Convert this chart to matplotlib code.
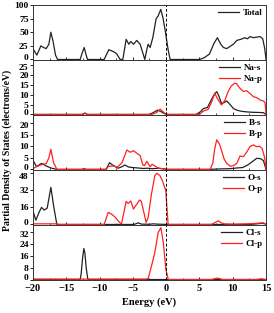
import numpy as np
import matplotlib
matplotlib.use('Agg')
import matplotlib.pyplot as plt
from matplotlib.ticker import MultipleLocator
from matplotlib.transforms import ScaledTranslation

plt.rcParams['font.family'] = ['Liberation Serif', 'DejaVu Serif']
plt.rcParams['font.weight'] = 'bold'

# Total DOS
total_e = [-20, -19.7, -19.4, -18.8, -18.4, -18.0, -17.6, -17.3, -17.0, -16.6, -16.3,
           -12.9, -12.6, -12.3, -12.0, -11.8, -9.3, -9.0, -8.6, -8.2, -7.7, -7.4, -7.1, -6.9,
           -6.5, -6.0, -5.6, -5.3, -4.9, -4.4, -3.9, -3.5, -3.2, -2.9, -2.7, -2.4, -2.0, -1.5,
           -1.2, -0.8, -0.45, -0.1, 0.3, 0.6, 5.0, 5.7, 6.5, 7.2, 7.7, 8.2, 8.6, 9.1, 9.6,
           10.1, 10.6, 11.2, 11.8, 12.2, 12.6, 13.1, 13.6, 14.1, 14.5, 14.8, 15.0]
total_v = [20, 14, 8, 25, 22, 20, 28, 50, 35, 8, 0,
           0, 12, 22, 8, 0, 0, 8, 18, 16, 13, 10, 4, 0,
           0, 37, 28, 33, 28, 35, 28, 12, 0, 18, 28, 22, 40, 75,
           80, 92, 75, 50, 18, 0, 0, 3, 10, 30, 40, 28, 22, 20, 24,
           28, 35, 37, 40, 38, 42, 40, 41, 42, 38, 20, 0]

# Na
nas_e = [-20, -12.6, -12.2, -11.8, -2.5, -1.8, -1.3, -0.8, -0.3, 0.2, 4.5, 5.2, 5.6, 6.2,
         6.8, 7.3, 7.6, 7.9, 8.3, 8.7, 9.1, 9.6, 10.1, 10.6, 11.3, 12.1, 13.0, 14.0, 14.6, 15.0]
nas_v = [0, 0, 0.6, 0, 0, 1.2, 2.2, 1.5, 0.5, 0, 0, 1.5, 3.0, 3.5,
         7.5, 10.5, 11.5, 9.5, 5.6, 6.0, 6.8, 5.0, 3.0, 2.2, 1.6, 1.3, 1.1, 1.0, 0.9, 0]
nap_e = [-20, -12.6, -12.2, -11.8, -2.2, -1.5, -0.9, -0.5, -0.1, 0.2, 5.0, 5.5, 5.8, 6.3,
         6.8, 7.3, 7.7, 8.3, 8.8, 9.3, 9.8, 10.3, 10.6, 11.0, 11.6, 12.1, 12.6, 13.1, 13.6,
         14.1, 14.6, 14.85, 15.0]
nap_v = [0, 0, 0.8, 0, 0, 0.8, 2.7, 1.5, 0.3, 0, 0, 1.5, 2.0, 2.5,
         6.0, 10.7, 8.0, 4.8, 7.0, 11.5, 14.5, 15.8, 15.5, 13.5, 11.6, 12.0, 10.5, 9.0, 8.5,
         7.3, 6.8, 6.0, 0]

# B
bs_e = [-20, -19.45, -18.7, -18.0, -17.3, -16.4, -12.6, -12.3, -12.0, -9.0, -8.5, -8.0,
        -7.2, -6.6, -6.2, -5.6, -5.0, -4.2, -3.5, -2.8, -2.0, -1.2, -0.3, 0.2, 6.5, 8.0,
        9.5, 10.6, 11.5, 12.3, 13.0, 13.6, 14.2, 14.6, 15.0]
bs_v = [4.0, 1.2, 2.6, 1.5, 0.6, 0, 0, 0.3, 0, 0, 2.9, 1.8,
        0.5, 1.2, 1.9, 1.0, 0.8, 0.6, 0.4, 0.5, 0.3, 0.5, 0.2, 0, 0, 0.2,
        0.3, 0.6, 0.8, 2.0, 3.5, 4.8, 4.6, 3.8, 0]
bp_e = [-20, -19.45, -18.9, -18.45, -18.0, -17.6, -17.3, -16.9, -16.4, -12.6, -12.3, -12.0,
        -9.0, -8.7, -8.0, -7.3, -6.6, -5.9, -5.4, -4.9, -4.4, -3.9, -3.5, -3.2, -2.9, -2.4,
        -2.1, -1.7, -1.2, -0.6, -0.2, 6.6, 7.0, 7.3, 7.6, 8.0, 8.3, 8.7, 9.1, 9.6, 10.1,
        10.6, 11.1, 11.6, 12.1, 12.6, 13.1, 13.6, 14.0, 14.4, 14.8, 15.0]
bp_v = [0.3, 1.2, 1.8, 2.3, 2.5, 5.0, 8.7, 3.0, 0, 0, 0.2, 0,
        0, 1.2, 1.5, 1.0, 3.0, 8.4, 7.4, 8.1, 7.0, 6.0, 1.9, 1.7, 3.5, 1.2,
        2.2, 1.5, 0.6, 0.3, 0, 0, 2.5, 9.0, 12.8, 11.0, 8.4, 4.5, 2.6, 1.4, 1.6,
        2.6, 5.8, 5.5, 7.5, 9.9, 10.6, 9.8, 10.0, 9.1, 5.0, 0]

# O
os_e = [-20, -19.55, -19.1, -18.7, -18.3, -17.85, -17.3, -16.85, -16.4, -4.8, -4.2, -3.7,
        -2.5, -1.9, -1.3, 0.3, 12.5, 13.5, 14.3, 14.8, 15]
os_v = [12.9, 4.0, 11.0, 16.0, 13.5, 15.4, 34.8, 16.0, 0, 0, 1.5, 0.3,
        0.2, 0.6, 0.3, 0, 0, 0.5, 1.0, 0.8, 0]
op_e = [-20, -16.5, -16.0, -9.3, -8.7, -8.2, -7.7, -7.0, -6.7, -6.4, -6.0, -5.7, -5.3,
        -4.9, -4.6, -4.4, -4.0, -3.75, -3.4, -3.0, -2.7, -2.2, -1.7, -1.4, -0.95, -0.55,
        -0.05, 0.3, 6.8, 7.4, 7.8, 8.3, 8.8, 10, 11.5, 13.0, 14.0, 14.6, 15.0]
op_v = [0.6, 0.6, 0, 0, 11.3, 9.7, 7.2, 1.9, 0.5, 9.7, 21.6, 19.7, 22.0,
        14.4, 17.5, 19.0, 22.9, 22.0, 12.9, 1.9, 6.6, 28.5, 45.8, 48.0, 46.0, 41.0,
        31.7, 0, 0, 2.0, 3.4, 1.5, 0.5, 0.3, 0.5, 0.8, 1.3, 1.5, 0]

# Cl
cls_e = [-20, -12.9, -12.75, -12.55, -12.35, -12.2, -12.0, -11.75, 15]
cls_v = [0, 0, 4, 14, 20.8, 18, 8, 0, 0]
clp_e = [-20, -3.0, -2.7, -2.2, -1.7, -1.2, -0.78, -0.43, -0.03, 0.33, 6.8, 7.7, 8.5,
         13.5, 14.3, 15]
clp_v = [0.3, 0.3, 0.6, 9, 18, 31.5, 34.7, 25, 6.7, 0, 0, 1.0, 0,
         0, 0.5, 0]

panels = [
    [(total_e, total_v, 'Total', '#222222')],
    [(nas_e, nas_v, 'Na-s', '#222222'), (nap_e, nap_v, 'Na-p', '#ff2020')],
    [(bs_e, bs_v, 'B-s', '#222222'), (bp_e, bp_v, 'B-p', '#ff2020')],
    [(os_e, os_v, 'O-s', '#222222'), (op_e, op_v, 'O-p', '#ff2020')],
    [(cls_e, cls_v, 'Cl-s', '#222222'), (clp_e, clp_v, 'Cl-p', '#ff2020')],
]
ylims = [(-1, 100), (-0.3, 27.5), (-0.3, 23.5), (-0.6, 51), (-0.4, 36.5)]
yticks = [[0, 25, 50, 75, 100], [0, 5, 10, 15, 20, 25], [0, 5, 10, 15, 20],
          [0, 16, 32, 48], [0, 8, 16, 24, 32]]

fig, axes = plt.subplots(5, 1, figsize=(2.74, 3.13), dpi=100, sharex=True)
fig.subplots_adjust(left=0.12, right=0.971, top=0.984, bottom=0.105, hspace=0)

up = ScaledTranslation(0, 1.6 / 72, fig.dpi_scale_trans)
down = ScaledTranslation(0, -1.6 / 72, fig.dpi_scale_trans)

for i, (ax, series, yl, yt) in enumerate(zip(axes, panels, ylims, yticks)):
    for e, v, lab, col in series:
        ax.plot(e, v, color=col, lw=0.9, label=lab)
    ax.axvline(0, color='black', lw=0.7, ls=(0, (3, 2)))
    ax.set_xlim(-20, 15)
    ax.set_ylim(*yl)
    ax.set_yticks(yt)
    ax.xaxis.set_major_locator(MultipleLocator(5))
    ax.xaxis.set_minor_locator(MultipleLocator(2.5))
    ax.tick_params(axis='x', direction='in', length=2.5, width=0.6, labelsize=7.5, pad=3)
    ax.tick_params(axis='x', which='minor', direction='in', length=1.5, width=0.5)
    ax.tick_params(axis='y', direction='out', length=2, width=0.6, labelsize=6.8, pad=1)
    for sp in ax.spines.values():
        sp.set_linewidth(0.7)
        sp.set_color('#333333')
    ax.legend(loc='upper right', frameon=False, handlelength=2.3,
              handletextpad=0.4, labelspacing=0.3, borderaxespad=0.1, borderpad=0.3,
              prop={'weight': 'bold', 'size': 6.5})
    # keep stacked tick labels apart
    ticks = ax.yaxis.get_major_ticks()
    lab0 = ticks[0].label1
    lab0.set_transform(lab0.get_transform() + up)
    if i > 0:
        labn = ticks[-1].label1
        labn.set_transform(labn.get_transform() + down)

axes[-1].set_xlabel('Energy (eV)', fontsize=7.5, fontweight='bold', labelpad=3)
fig.text(0.028, 0.52, 'Partial Density of States (electrons/eV)', rotation=90,
         ha='center', va='center', fontsize=7, fontweight='bold')

fig.savefig('out.png', dpi=100)
